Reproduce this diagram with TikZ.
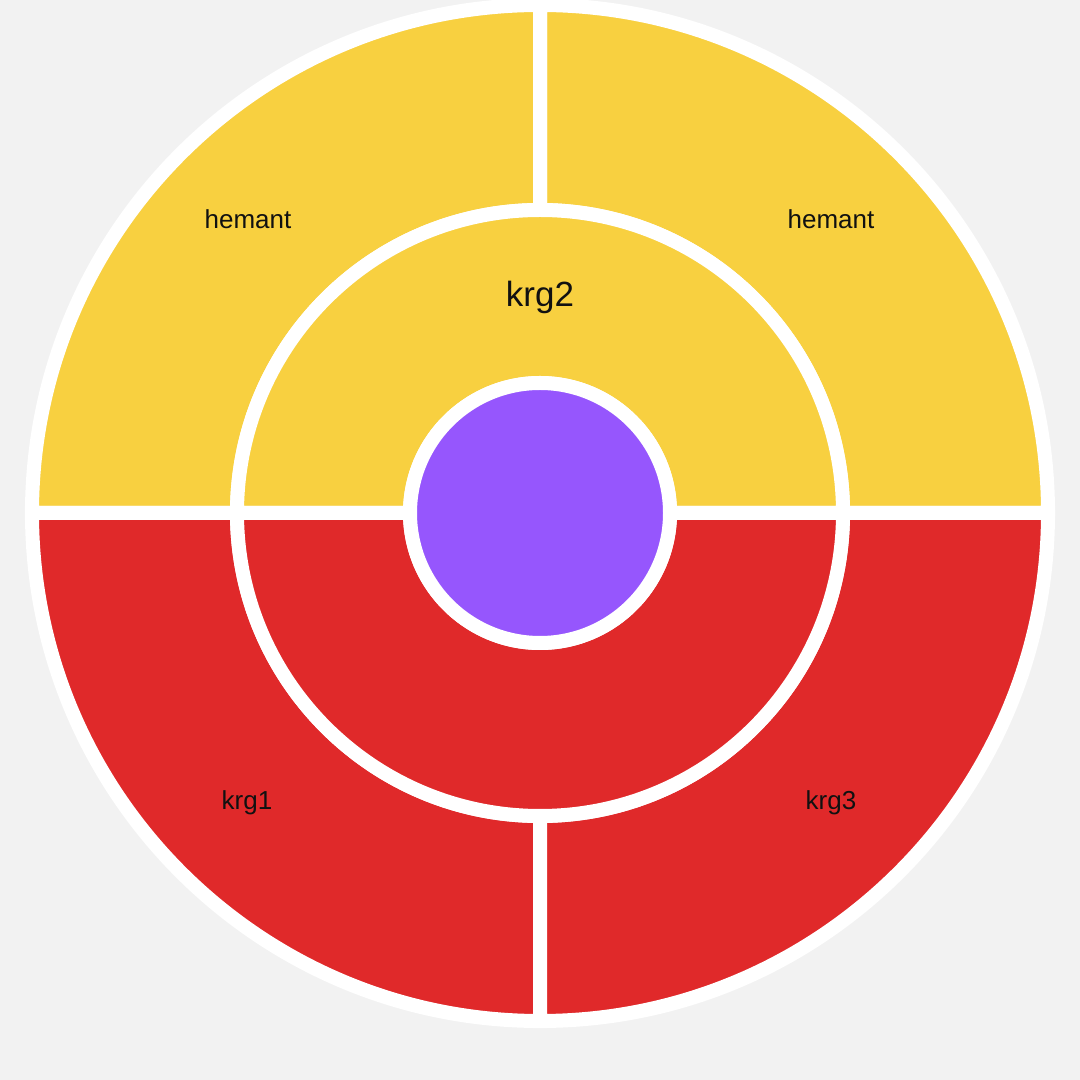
\documentclass[tikz,border=0pt]{standalone}
\usepackage{fontspec}
\setmainfont{Liberation Sans}
\definecolor{bg}{RGB}{242,242,242}
\definecolor{sunyellow}{RGB}{248,208,64}
\definecolor{sunred}{RGB}{224,41,42}
\definecolor{sunpurple}{RGB}{150,86,253}
\definecolor{txt}{RGB}{17,17,17}
\begin{document}
\begin{tikzpicture}[x=1pt,y=1pt,
  seg/.style={draw=white,line width=14pt,line join=miter},
  lbl/.style={text=txt,font=\fontsize{26}{26}\selectfont,inner sep=0pt},
  biglbl/.style={text=txt,font=\fontsize{35}{35}\selectfont,inner sep=0pt}]
\useasboundingbox (0,0) rectangle (1080,1080);
\fill[bg] (0,0) rectangle (1080,1080);
\coordinate (c) at (540,567);
% outer ring
\path[seg,fill=sunyellow] ([shift={(0:303)}]c) arc[start angle=0,end angle=90,radius=303] -- ([shift={(90:508)}]c) arc[start angle=90,end angle=0,radius=508] -- cycle;
\path[seg,fill=sunyellow] ([shift={(90:303)}]c) arc[start angle=90,end angle=180,radius=303] -- ([shift={(180:508)}]c) arc[start angle=180,end angle=90,radius=508] -- cycle;
\path[seg,fill=sunred] ([shift={(180:303)}]c) arc[start angle=180,end angle=270,radius=303] -- ([shift={(270:508)}]c) arc[start angle=270,end angle=180,radius=508] -- cycle;
\path[seg,fill=sunred] ([shift={(270:303)}]c) arc[start angle=270,end angle=360,radius=303] -- ([shift={(0:508)}]c) arc[start angle=360,end angle=270,radius=508] -- cycle;
% middle ring
\path[seg,fill=sunyellow] ([shift={(0:130)}]c) arc[start angle=0,end angle=180,radius=130] -- ([shift={(180:303)}]c) arc[start angle=180,end angle=0,radius=303] -- cycle;
\path[seg,fill=sunred] ([shift={(180:130)}]c) arc[start angle=180,end angle=360,radius=130] -- ([shift={(0:303)}]c) arc[start angle=360,end angle=180,radius=303] -- cycle;
% centre
\path[seg,fill=sunpurple] (c) circle[radius=130];
% labels
\node[lbl] (h1) at (248,861) {hemant};
\node[lbl] (h2) at (831,861) {hemant};
\node[biglbl] (k2) at (540,783) {krg2};
\node[lbl] (k1) at (247,277) {krg1};
\node[lbl] (k3) at (831,277) {krg3};
\end{tikzpicture}
\end{document}
